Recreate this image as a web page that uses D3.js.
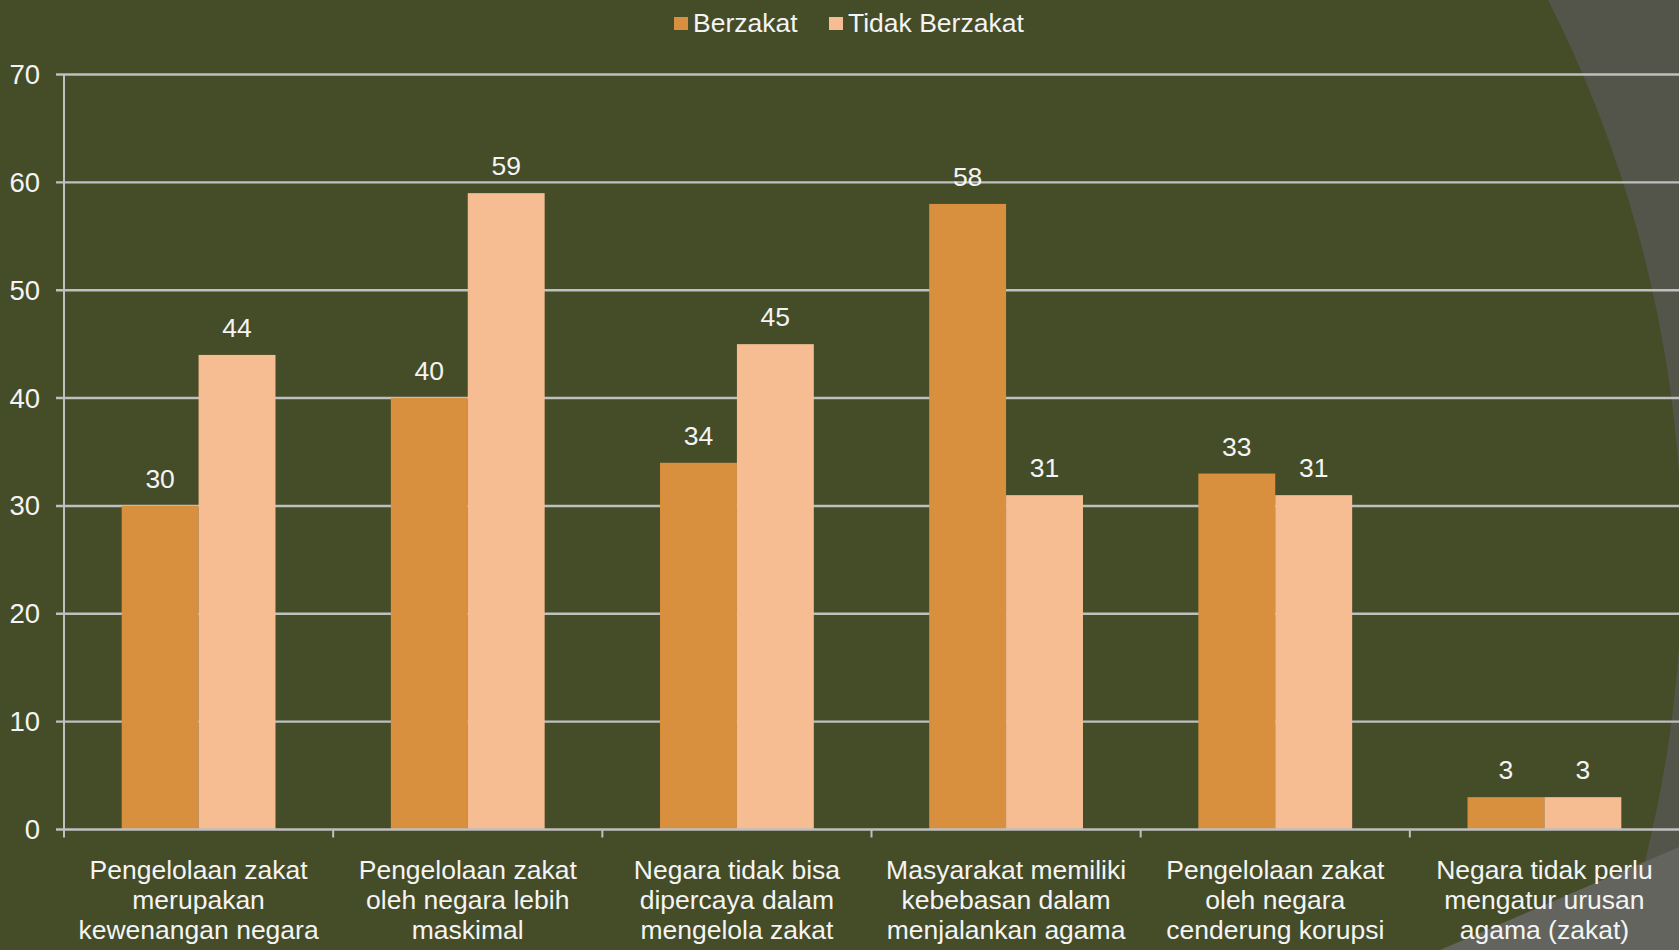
<!DOCTYPE html>
<html>
<head>
<meta charset="utf-8">
<script src="https://cdn.jsdelivr.net/npm/d3@7"></script>
<style>
  html, body { margin: 0; padding: 0; background: #454C28; overflow: hidden; }
  svg { display: block; }
  text { font-family: "Liberation Sans", Arial, sans-serif; fill: #F4F4F4; }
</style>
</head>
<body>
<svg id="chart" width="1679" height="950"></svg>
<script>
const categories = [
  ["Pengelolaan zakat", "merupakan", "kewenangan negara"],
  ["Pengelolaan zakat", "oleh negara lebih", "maskimal"],
  ["Negara tidak bisa", "dipercaya dalam", "mengelola zakat"],
  ["Masyarakat memiliki", "kebebasan dalam", "menjalankan agama"],
  ["Pengelolaan zakat", "oleh negara", "cenderung korupsi"],
  ["Negara tidak perlu", "mengatur urusan", "agama (zakat)"]
];
const seriesNames = ["Berzakat", "Tidak Berzakat"];
const berzakat = [30, 40, 34, 58, 33, 3];
const tidakBerzakat = [44, 59, 45, 31, 31, 3];
const yTicks = [0, 10, 20, 30, 40, 50, 60, 70];
const colors = ["#D8903E", "#F6BD92"];

const W = 1679, H = 950;
const svg = d3.select("#chart");

// background decoration
svg.append("rect").attr("width", W).attr("height", H).attr("fill", "#454C28");
const R = 1237;
svg.append("path")
  .attr("d", `M${W},0 L1548,0 A${R},${R} 0 0 1 1619,${H} L${W},${H} Z`)
  .attr("fill", "#53554B");
svg.append("path")
  .attr("d", `M1440,${H} L${W},847 L${W},${H} Z`)
  .attr("fill", "#63645D");

const x0 = d3.scaleBand().domain(d3.range(categories.length))
  .range([64, 1679]).paddingInner(0).paddingOuter(0);
const x1 = d3.scaleBand().domain(seriesNames)
  .range([0, x0.bandwidth()]).paddingInner(0).paddingOuter(0.75);
const y = d3.scaleLinear().domain([0, 70]).range([829.5, 74.5]);

const gridColor = "#BFBFBF";

// gridlines
svg.append("g").selectAll("line").data(yTicks.filter(t => t > 0)).join("line")
  .attr("x1", 56).attr("x2", W)
  .attr("y1", d => y(d)).attr("y2", d => y(d))
  .attr("stroke", gridColor).attr("stroke-width", 2.4);

// y axis line
svg.append("line").attr("x1", 64).attr("x2", 64)
  .attr("y1", y(70)).attr("y2", y(0) + 8)
  .attr("stroke", gridColor).attr("stroke-width", 2);

// y tick labels
svg.append("g").selectAll("text").data(yTicks).join("text")
  .attr("x", 40).attr("y", d => y(d))
  .attr("text-anchor", "end").attr("dominant-baseline", "central")
  .attr("font-size", 27.5).text(d => d);

// bars
const data = categories.map((c, i) => ({ i, vals: [berzakat[i], tidakBerzakat[i]] }));
const groups = svg.append("g").selectAll("g").data(data).join("g")
  .attr("transform", d => `translate(${x0(d.i)},0)`);
groups.selectAll("rect").data(d => d.vals.map((v, k) => ({ v, k }))).join("rect")
  .attr("x", d => x1(seriesNames[d.k]))
  .attr("width", x1.bandwidth())
  .attr("y", d => y(d.v))
  .attr("height", d => y(0) - y(d.v))
  .attr("fill", d => colors[d.k]);
groups.selectAll("text").data(d => d.vals.map((v, k) => ({ v, k }))).join("text")
  .attr("x", d => x1(seriesNames[d.k]) + x1.bandwidth() / 2)
  .attr("y", d => y(d.v) - 18)
  .attr("text-anchor", "middle").attr("font-size", 26.5)
  .text(d => d.v);

// x axis line
svg.append("line").attr("x1", 56).attr("x2", W)
  .attr("y1", y(0)).attr("y2", y(0))
  .attr("stroke", gridColor).attr("stroke-width", 2.4);
svg.append("g").selectAll("line").data(d3.range(1, categories.length)).join("line")
  .attr("x1", d => x0(d)).attr("x2", d => x0(d))
  .attr("y1", y(0)).attr("y2", y(0) + 8)
  .attr("stroke", gridColor).attr("stroke-width", 2);

// category labels
const cl = svg.append("g").selectAll("text").data(categories).join("text")
  .attr("text-anchor", "middle").attr("font-size", 26.5)
  .attr("x", (d, i) => x0(i) + x0.bandwidth() / 2)
  .attr("y", 879);
cl.selectAll("tspan").data(d => d).join("tspan")
  .attr("x", function() { return this.parentNode.getAttribute("x"); })
  .attr("dy", (d, j) => j === 0 ? 0 : 30)
  .text(d => d);

// legend
const legendItems = [
  { name: seriesNames[0], color: colors[0], sx: 674, tx: 693 },
  { name: seriesNames[1], color: colors[1], sx: 829, tx: 848 }
];
const lg = svg.append("g");
lg.selectAll("rect").data(legendItems).join("rect")
  .attr("x", d => d.sx).attr("y", 17).attr("width", 14).attr("height", 13)
  .attr("fill", d => d.color);
lg.selectAll("text").data(legendItems).join("text")
  .attr("x", d => d.tx).attr("y", 32).attr("font-size", 26.5)
  .text(d => d.name);
</script>
</body>
</html>
